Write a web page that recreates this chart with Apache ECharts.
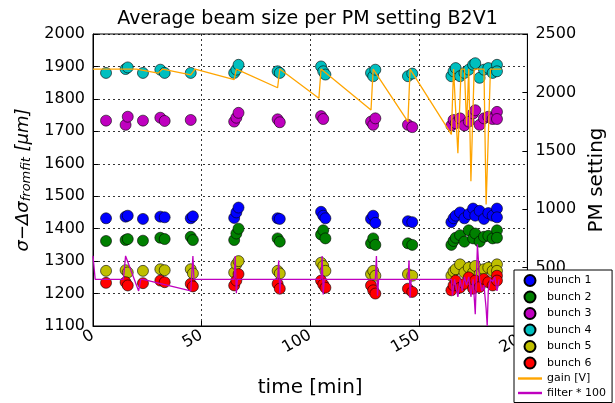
<!DOCTYPE html><html><head><meta charset="utf-8"><script src="https://cdn.jsdelivr.net/npm/echarts@6/dist/echarts.min.js"></script></head><body style="margin:0"><div id="c" style="width:615px;height:403px"></div><script>
const bunch1=[[6,1432],[15,1437],[16,1440],[23,1430],[31,1437],[33,1435],[45,1432],[46,1438],[65,1433],[66,1450],[67,1465],[85,1432],[86,1430],[105,1452],[106,1440],[107,1432],[128,1430],[129,1440],[130,1418],[145,1423],[147,1420],[165,1420],[166,1432],[167,1440],[169,1450],[171,1432],[173,1445],[175,1462],[176,1440],[178,1455],[180,1430],[182,1448],[184,1440],[186,1462],[186,1435]];
const bunch2=[[6,1362],[15,1365],[16,1368],[23,1363],[31,1372],[33,1368],[45,1375],[46,1365],[65,1365],[66,1385],[67,1400],[85,1370],[86,1360],[105,1382],[106,1395],[107,1370],[128,1355],[129,1370],[130,1350],[145,1355],[147,1350],[165,1350],[166,1362],[167,1372],[169,1380],[171,1360],[173,1395],[175,1370],[176,1385],[178,1360],[180,1375],[182,1378],[184,1370],[186,1395],[186,1372]];
const bunch3=[[6,1733],[15,1720],[16,1745],[23,1733],[31,1742],[33,1732],[45,1735],[65,1730],[66,1742],[67,1757],[85,1737],[86,1728],[105,1747],[106,1738],[128,1730],[129,1720],[130,1740],[145,1720],[147,1713],[165,1718],[166,1735],[167,1725],[169,1740],[171,1718],[173,1730],[175,1755],[176,1765],[178,1720],[180,1740],[182,1745],[184,1738],[186,1760],[186,1738]];
const bunch4=[[6,1880],[15,1892],[16,1897],[23,1880],[31,1890],[33,1880],[45,1880],[65,1880],[66,1890],[67,1905],[85,1885],[86,1880],[105,1900],[106,1885],[107,1875],[128,1880],[129,1870],[130,1890],[145,1870],[147,1878],[165,1870],[166,1885],[167,1895],[169,1870],[171,1880],[173,1890],[175,1905],[176,1910],[178,1865],[180,1890],[182,1895],[184,1880],[186,1905],[186,1885]];
const bunch5=[[6,1270],[15,1272],[16,1265],[23,1270],[31,1275],[33,1272],[45,1275],[46,1262],[65,1265],[66,1290],[67,1300],[85,1270],[86,1262],[105,1295],[106,1285],[107,1270],[128,1260],[129,1270],[130,1255],[145,1260],[147,1255],[165,1255],[166,1268],[167,1275],[169,1290],[171,1265],[173,1280],[175,1265],[176,1285],[178,1260],[180,1275],[182,1280],[184,1270],[186,1290],[186,1270]];
const bunch6=[[6,1233],[15,1235],[16,1225],[23,1232],[31,1240],[33,1235],[45,1230],[46,1222],[65,1225],[66,1240],[67,1260],[85,1230],[86,1215],[105,1240],[106,1228],[107,1218],[128,1225],[129,1210],[130,1200],[145,1215],[147,1205],[165,1210],[166,1225],[167,1240],[169,1218],[171,1230],[173,1250],[175,1215],[176,1240],[178,1220],[180,1245],[182,1235],[184,1225],[186,1255],[186,1240]];
const gain=[[0,2200],[20,2200],[30,2165],[32,2200],[45,2150],[47,2200],[65,2110],[66,2200],[85,2040],[86,2200],[104,1950],[105,2200],[128,1850],[129,2200],[145,1750],[146,2200],[165,1640],[166,2200],[168,1480],[169.5,2200],[171,2200],[172,1720],[173,2200],[174,1240],[175.5,2200],[180,2200],[181,1040],[183,2200],[188,2200]];
const filter=[[0,600],[1,400],[14,400],[15,600],[21,300],[22,400],[23,400],[45,300],[46,600],[46.5,400],[65,400],[65.5,600],[66,280],[66.5,400],[85,400],[85.5,560],[86,280],[86.5,400],[105,400],[105.5,600],[106,270],[106.5,400],[130,400],[130.5,600],[131,260],[131.5,400],[145,400],[145.5,560],[146,240],[146.5,400],[165,400],[165.5,260],[166.5,400],[167,350],[168,250],[169,400],[170,300],[171,420],[172,350],[173,420],[174,250],[175,400],[176,100],[177,700],[178,400],[179,300],[180,350],[181,150],[181.5,0],[182,300],[183,400],[184,380],[185,420],[186,300],[187,400]];
const bunches=[['bunch 1',bunch1,'#0000ff'],['bunch 2',bunch2,'#008000'],['bunch 3',bunch3,'#bf00bf'],['bunch 4',bunch4,'#00bfbf'],['bunch 5',bunch5,'#bfbf00'],['bunch 6',bunch6,'#ff0000']];
const F='DejaVu Sans';
const series=bunches.map(b=>({name:b[0],type:'scatter',data:b[1],symbolSize:11,z:2,itemStyle:{color:b[2],borderColor:'#000',borderWidth:0.6,opacity:1}}));
series.push({name:'gain [V]',type:'line',yAxisIndex:1,z:5,data:gain,symbol:'none',lineStyle:{color:'#ffa500',width:1.3},itemStyle:{color:'#ffa500'}});
series.push({name:'filter * 100',type:'line',yAxisIndex:1,z:5,data:filter,symbol:'none',lineStyle:{color:'#bf00bf',width:1.3},itemStyle:{color:'#bf00bf'}});
const dot={show:true,lineStyle:{type:[2,3],color:'#000',width:0.8}};
const lab={color:'#000',fontFamily:F,fontSize:16,formatter:v=>String(v)};
const ax={axisLine:{lineStyle:{color:'#000'}},axisTick:{inside:true,lineStyle:{color:'#000'}},axisLabel:lab};
echarts.init(document.getElementById('c')).setOption({
animation:false,
title:{text:'Average beam size per PM setting B2V1',left:'center',top:5,textStyle:{fontFamily:F,fontWeight:'normal',fontSize:19,color:'#000'}},
grid:{left:93,right:86,top:34,bottom:77,show:true,borderColor:'#000',borderWidth:1},
legend:{orient:'vertical',left:514,top:270,itemGap:3.5,itemWidth:24,itemHeight:11,padding:[4,6,4,4],borderColor:'#000',borderWidth:1,backgroundColor:'#fff',textStyle:{fontFamily:F,fontSize:11,color:'#000'},z:10,
data:['bunch 1','bunch 2','bunch 3','bunch 4','bunch 5','bunch 6',{name:'gain [V]',icon:'path://M0,0h10v1h-10z'},{name:'filter * 100',icon:'path://M0,0h10v1h-10z'}]},
xAxis:Object.assign({type:'value',min:0,max:200,interval:50,splitLine:dot,name:'time [min]',nameLocation:'middle',nameGap:52,nameTextStyle:{fontFamily:F,fontSize:20,color:'#000'}},ax,{axisLabel:Object.assign({},lab,{rotate:30,margin:8})}),
yAxis:[Object.assign({type:'value',min:1100,max:2000,interval:100,splitLine:dot,name:'{a|σ−Δσ}{b|fromfit}{a| [μm]}',nameLocation:'middle',nameGap:58,nameTextStyle:{rich:{a:{fontFamily:F,fontSize:18,fontStyle:'italic',color:'#000'},b:{fontFamily:F,fontSize:13,fontStyle:'italic',color:'#000',verticalAlign:'bottom',padding:[8,0,0,0]}}}},ax),
Object.assign({type:'value',min:0,max:2500,interval:500,splitLine:{show:false},name:'PM setting',nameLocation:'middle',nameGap:55,nameTextStyle:{fontFamily:F,fontSize:20,color:'#000'}},ax)],
series:series});
</script></body></html>
